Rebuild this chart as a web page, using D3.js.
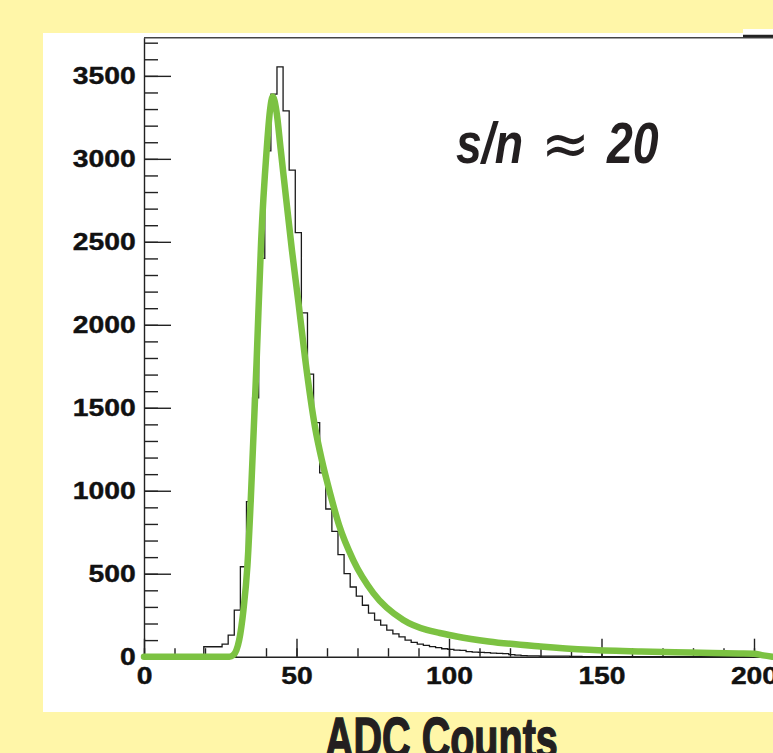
<!DOCTYPE html>
<meta charset="utf-8" />
<script src="https://d3js.org/d3.v7.min.js"></script>
<style>
  body { margin: 0; background: #fff6a8; }
  svg { display: block; }
</style>

<svg id="chart" width="773" height="753"></svg>

<script>
  // histogram: bins of width 2 starting at binStart
  var binStart = 19.6;
  var binWidth = 2;
  var counts = [
    60, 60, 60, 76, 130, 281, 542, 934, 1560, 2400,
    3048, 3390, 3554, 3289, 2932, 2555, 2072, 1703, 1410, 1108,
    890, 755, 615, 500, 420, 365, 310, 262, 220, 190,
    160, 138, 120, 100, 86, 76, 68, 61, 55, 48,
    44, 40, 38, 30, 28, 26, 24, 22, 20, 19,
    12, 9, 6, 5, 5, 4, 4, 3, 3, 3,
    2, 2, 1, 1, 1
  ];

  // fitted curve
  var fitX = [0, 28.0, 29.3, 30.3, 31.2, 32.6, 33.9, 35.0, 36.9, 38.4, 40.2, 41.3, 42.2,
    43.4, 44.8, 46.6, 48.5, 50.6, 52.8, 56.1, 58.3, 61.0, 64.0, 68.6, 75.2, 85.0,
    92.7, 97.0, 102.5, 113, 130, 146, 163, 179, 195, 200, 203, 206];
  var fitY = [0, 0, 10, 40, 100, 281, 546, 944, 1770, 2500, 3050, 3290, 3375,
    3290, 3060, 2760, 2450, 2140, 1800, 1380, 1185, 986, 790, 582, 383, 221,
    161, 143, 122, 92, 62, 42, 31, 25, 20, 18, 8, 0];

  // axis ticks
  var xTicks = [0, 50, 100, 150, 200];
  var xMinor = d3.range(0, 211, 10);
  var yTicks = [0, 500, 1000, 1500, 2000, 2500, 3000, 3500];
  var yMinor = d3.range(0, 3701, 100);

  var svg = d3.select("#chart");

  // white panel
  svg.append("rect").attr("x", 43).attr("y", 33).attr("width", 730).attr("height", 679).attr("fill", "#fff");
  svg.append("rect").attr("x", 743).attr("y", 29).attr("width", 30).attr("height", 6).attr("fill", "#fff");

  var x = d3.scaleLinear().domain([0, 210]).range([144, 144 + 210 * 3.05]);
  var y = d3.scaleLinear().domain([0, 3730]).range([656.7, 37.7]);

  // top frame
  svg.append("line").attr("x1", 144).attr("x2", 773).attr("y1", 37.7).attr("y2", 37.7)
    .attr("stroke", "#444").attr("stroke-width", 1.5);
  svg.append("line").attr("x1", 743).attr("x2", 773).attr("y1", 36).attr("y2", 36)
    .attr("stroke", "#222").attr("stroke-width", 2.5);

  var labelFont = "'Liberation Sans', Arial, Helvetica, sans-serif";

  function styleAxis(g) {
    g.selectAll("path, line").attr("stroke", "#222").attr("stroke-width", 1.4);
    g.selectAll("text")
      .attr("font-family", labelFont)
      .attr("font-size", 24)
      .attr("font-weight", "bold")
      .attr("fill", "#111")
      .attr("stroke", "#111")
      .attr("stroke-width", 0.4)
      .attr("transform", "scale(1.18,1)");
  }

  // minor ticks
  svg.append("g").attr("transform", "translate(0,656.7)")
    .call(d3.axisBottom(x).tickValues(xMinor).tickSize(-8.5).tickSizeOuter(0).tickFormat(""))
    .call(function(g) { g.select(".domain").remove(); })
    .call(styleAxis);
  svg.append("g").attr("transform", "translate(144,0)")
    .call(d3.axisLeft(y).tickValues(yMinor).tickSize(-14).tickSizeOuter(0).tickFormat(""))
    .call(function(g) { g.select(".domain").remove(); })
    .call(styleAxis);

  // major ticks + labels
  svg.append("g").attr("transform", "translate(0,656.7)")
    .call(d3.axisBottom(x).tickValues(xTicks).tickSize(-18).tickSizeOuter(0).tickPadding(10).tickFormat(d3.format("d")))
    .call(styleAxis);
  svg.append("g").attr("transform", "translate(144,0)")
    .call(d3.axisLeft(y).tickValues(yTicks).tickSize(-27).tickSizeOuter(0).tickPadding(7).tickFormat(d3.format("d")))
    .call(styleAxis);

  // histogram as a step line
  var histPts = [[0, 0]];
  counts.forEach(function(c, i) {
    histPts.push([binStart + i * binWidth, c]);
  });
  histPts.push([binStart + counts.length * binWidth, 0]);
  histPts.push([200, 0]);

  var histLine = d3.line()
    .x(function(d) { return x(d[0]); })
    .y(function(d) { return y(d[1]); })
    .curve(d3.curveStepAfter);

  svg.append("path")
    .datum(histPts)
    .attr("d", histLine)
    .attr("fill", "none")
    .attr("stroke", "#1a1a1a")
    .attr("stroke-width", 1.3);

  // fit curve
  var fitPts = fitX.map(function(v, i) { return [v, fitY[i]]; });
  var fitLine = d3.line()
    .x(function(d) { return x(d[0]); })
    .y(function(d) { return y(d[1]); })
    .curve(d3.curveMonotoneX);

  svg.append("path")
    .datum(fitPts)
    .attr("d", fitLine)
    .attr("fill", "none")
    .attr("stroke", "#7cc242")
    .attr("stroke-width", 6.5)
    .attr("stroke-linecap", "round")
    .attr("stroke-linejoin", "round");

  // s/n annotation
  svg.append("text")
    .attr("transform", "translate(456,163) scale(0.8,1)")
    .attr("font-family", labelFont)
    .attr("font-size", 58)
    .attr("font-weight", "bold")
    .attr("font-style", "italic")
    .attr("fill", "#231f20")
    .text("s/n");
  svg.append("text")
    .attr("x", 541).attr("y", 165)
    .attr("font-family", "'DejaVu Sans', sans-serif")
    .attr("font-size", 62)
    .attr("fill", "#231f20")
    .attr("textLength", 49)
    .attr("lengthAdjust", "spacingAndGlyphs")
    .text("≈");
  svg.append("text")
    .attr("transform", "translate(607,163) scale(0.8,1)")
    .attr("font-family", labelFont)
    .attr("font-size", 58)
    .attr("font-weight", "bold")
    .attr("font-style", "italic")
    .attr("fill", "#231f20")
    .text("20");

  // x axis title
  svg.append("text")
    .attr("transform", "translate(325,758) scale(0.682,1)")
    .attr("font-family", labelFont)
    .attr("font-size", 58)
    .attr("font-weight", "bold")
    .attr("fill", "#231f20")
    .attr("stroke", "#231f20")
    .attr("stroke-width", 1.5)
    .text("ADC Counts");
</script>
